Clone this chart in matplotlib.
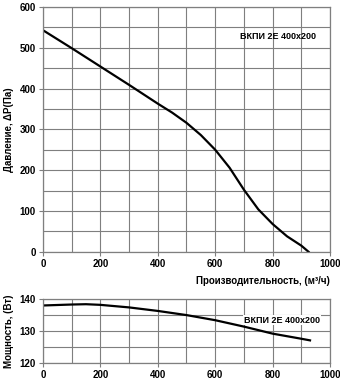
import numpy as np
import matplotlib.pyplot as plt

plt.rcParams['font.family'] = ['Liberation Sans', 'DejaVu Sans']

# pressure curve
flow_p = [0, 100, 200, 300, 400, 450, 500, 550, 600, 650, 700, 750, 800, 850, 900, 925]
pressure = [543, 499, 454, 409, 363, 341, 316, 286, 250, 206, 152, 104, 68, 38, 15, 0]

# power curve
flow_w = [0, 100, 150, 200, 250, 300, 400, 500, 600, 700, 800, 900, 930]
power = [138.0, 138.3, 138.4, 138.2, 137.8, 137.4, 136.3, 135.0, 133.4, 131.4, 129.2, 127.6, 127.1]

model = "ВКПИ 2Е 400х200"
grid_c = "#7f7f7f"

fig = plt.figure(figsize=(3.4, 3.81), dpi=100)
ax1 = fig.add_axes([0.126, 0.339, 0.845, 0.643])
ax2 = fig.add_axes([0.126, 0.047, 0.845, 0.168])

def style(ax):
    for s in ax.spines.values():
        s.set_color(grid_c)
        s.set_linewidth(0.9)
    ax.grid(True, which='both', color=grid_c, linewidth=0.8)
    ax.set_axisbelow(True)
    ax.tick_params(which='major', length=3, color=grid_c, labelsize=7, pad=2)
    ax.tick_params(which='minor', length=0)
    for lb in ax.get_xticklabels() + ax.get_yticklabels():
        lb.set_fontweight('bold')

ax1.plot(flow_p, pressure, color='black', linewidth=1.6)
ax1.set_xlim(0, 1000)
ax1.set_ylim(0, 600)
ax1.set_xticks(np.arange(0, 1001, 200))
ax1.set_xticks(np.arange(0, 1001, 100), minor=True)
ax1.set_yticks(np.arange(0, 601, 100))
ax1.set_yticks(np.arange(0, 601, 50), minor=True)
style(ax1)
ax1.set_ylabel("Давление, ΔP(Па)", fontsize=7, fontweight='bold', labelpad=4)
ax1.set_xlabel("Производительность, (м³/ч)", fontsize=7, fontweight='bold')
ax1.xaxis.set_label_coords(1.0, -0.1)
ax1.xaxis.label.set_horizontalalignment('right')
ax1.text(820, 528, model, fontsize=6.5, fontweight='bold', ha='center', va='center')

ax2.plot(flow_w, power, color='black', linewidth=1.6)
ax2.set_xlim(0, 1000)
ax2.set_ylim(120, 140)
ax2.set_xticks(np.arange(0, 1001, 200))
ax2.set_xticks(np.arange(0, 1001, 100), minor=True)
ax2.set_yticks([120, 130, 140])
ax2.set_yticks(np.arange(120, 141, 5), minor=True)
style(ax2)
ax2.set_ylabel("Мощность, (Вт)", fontsize=7, fontweight='bold', labelpad=4)
ax2.text(832, 133.4, model, fontsize=6.5, fontweight='bold', ha='center', va='center',
         bbox=dict(facecolor='white', edgecolor='none', pad=0.5))

fig.savefig("out.png", dpi=100)
